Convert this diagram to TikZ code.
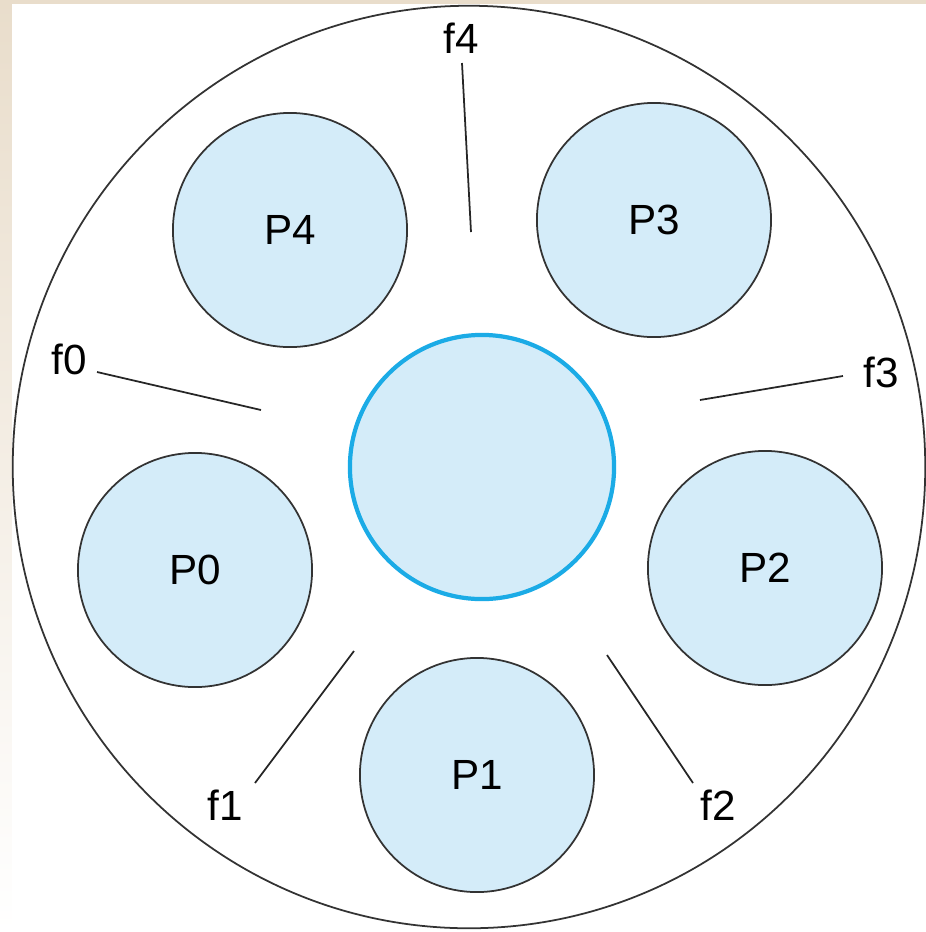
\documentclass[tikz,border=0pt]{standalone}
\usepackage{fontspec}
\setmainfont{Liberation Sans}
\usepackage{tikz}

\definecolor{platefill}{HTML}{D4ECF9}
\definecolor{tableedge}{HTML}{1BABE6}
\definecolor{paper}{HTML}{E9DDCB}

\begin{document}
\begin{tikzpicture}[x=0.01cm,y=-0.01cm,
    plate/.style={circle,draw=black!80,fill=platefill,line width=0.5pt,minimum size=2.34cm,inner sep=0pt,font=\fontsize{12}{14}\selectfont},
    fork/.style={draw=black!85,line width=0.5pt},
    forklabel/.style={font=\fontsize{12}{14}\selectfont,inner sep=0pt}]
      \useasboundingbox (0,0) rectangle (926,932);

      % Page background
      \shade[top color=paper,bottom color=white] (0,0) rectangle (12,932);
      \fill[paper] (0,0) rectangle (926,4);

      % Table edge
      \draw[black!80,line width=0.5pt] (469,467) ellipse [x radius=4.56cm,y radius=4.61cm];

      % Bowl in the middle
      \node[circle,draw=tableedge,fill=platefill,line width=1.2pt,minimum size=2.64cm,inner sep=0pt] (bowl) at (482,467) {};

      % Philosophers
      \node[plate] (p4) at (290,230) {P4};
      \node[plate] (p3) at (654,220) {P3};
      \node[plate] (p0) at (195,570) {P0};
      \node[plate] (p2) at (765,568) {P2};
      \node[plate] (p1) at (477,775) {P1};

      % Forks
      \node[forklabel] (f4) at (461,38) {f4};
      \coordinate (f4a) at (462,63);
      \coordinate (f4b) at (471,232);
      \draw[fork] (f4a) -- (f4b);

      \node[forklabel] (f0) at (69,359) {f0};
      \coordinate (f0a) at (97,372);
      \coordinate (f0b) at (261,410);
      \draw[fork] (f0a) -- (f0b);

      \node[forklabel] (f3) at (881,372) {f3};
      \coordinate (f3a) at (843,376);
      \coordinate (f3b) at (700,400);
      \draw[fork] (f3a) -- (f3b);

      \node[forklabel] (f1) at (225,805) {f1};
      \coordinate (f1a) at (255,783);
      \coordinate (f1b) at (354,651);
      \draw[fork] (f1a) -- (f1b);

      \node[forklabel] (f2) at (718,805) {f2};
      \coordinate (f2a) at (693,783);
      \coordinate (f2b) at (607,655);
      \draw[fork] (f2a) -- (f2b);
    \end{tikzpicture}
\end{document}
